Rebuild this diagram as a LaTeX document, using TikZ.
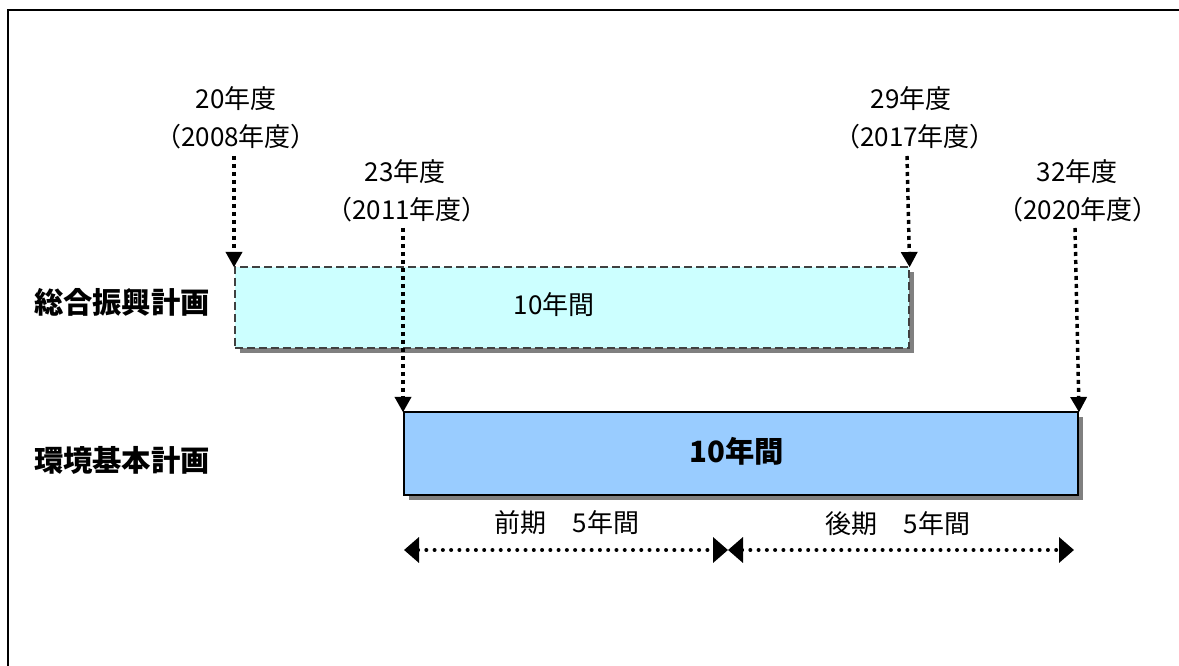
\documentclass[tikz,border=0pt]{standalone}
\usepackage{fontspec}
\setmainfont{Noto Sans CJK JP}
\usetikzlibrary{arrows.meta,shadows}
\definecolor{cyanfill}{HTML}{CCFFFF}
\definecolor{bluefill}{HTML}{99CCFF}
\definecolor{shadowgray}{HTML}{808080}
\definecolor{dashgray}{HTML}{404040}
\tikzset{
  lbl/.style={inner sep=0pt, font=\fontsize{19.5pt}{23pt}\selectfont},
  biglbl/.style={inner sep=0pt, font=\fontsize{22pt}{25pt}\selectfont\bfseries},
  boxshadow/.style={drop shadow={shadow xshift=3.75pt, shadow yshift=-3.75pt, fill=shadowgray, opacity=1}},
  planbox/.style={draw=dashgray, dash pattern=on 6pt off 3pt, line width=1.2pt, fill=cyanfill,
    minimum width=505.5pt, minimum height=60.75pt, anchor=north west, inner sep=0pt, boxshadow},
  envbox/.style={draw=black, line width=1.5pt, fill=bluefill,
    minimum width=505.5pt, minimum height=62.25pt, anchor=north west, inner sep=0pt, boxshadow},
  varrow/.style={line width=2.6pt, dash pattern=on 3pt off 3pt,
    -{Triangle[length=11.5pt,width=12pt]}, shorten >=-1pt},
  harrow/.style={line width=3pt, line cap=round, dash pattern=on 0pt off 6.2pt,
    {Triangle[length=11.25pt,width=18.75pt]}-{Triangle[length=11.25pt,width=18.75pt]}},
}
\begin{document}
\begin{tikzpicture}[x=0.75pt,y=-0.75pt]
\useasboundingbox (0,0) rectangle (1179,666);
% frame
\draw[line width=1.6pt] (8,680) -- (8,10) -- (1190,10);

% row labels
\node[biglbl] (lplan) at (122,302) {総合振興計画};
\node[biglbl] (lenv) at (122,460) {環境基本計画};

% boxes
\node[planbox] (plan) at (234,266) {};
\node[lbl] (plantext) at (554,305) {10年間};
\node[envbox] (env) at (403,411) {};
\node[biglbl] (envtext) at (737,451) {10年間};

% year labels
\node[lbl] (y20) at (236,99) {20年度};
\node[lbl] (y20b) at (236,137) {（2008年度）};
\node[lbl] (y23) at (405,172) {23年度};
\node[lbl] (y23b) at (407,210) {（2011年度）};
\node[lbl] (y29) at (911,99) {29年度};
\node[lbl] (y29b) at (915,137) {（2017年度）};
\node[lbl] (y32) at (1077,172) {32年度};
\node[lbl] (y32b) at (1078,210) {（2020年度）};

% vertical arrows
\coordinate (s20) at (234,156);
\coordinate (s23) at (403,228);
\coordinate (s29) at (907,156);
\coordinate (s32) at (1075,228);
\draw[varrow] (s20) -- (plan.north west);
\draw[varrow] (s29) -- (plan.north east);
\draw[varrow] (s23) -- (env.north west);
\draw[varrow] (s32) -- (env.north east);

% periods
\node[lbl] (early) at (567,523) {前期　5年間};
\node[lbl] (late) at (898,524) {後期　5年間};
\coordinate (h1) at (404,550);
\coordinate (h2) at (728,550);
\coordinate (h3) at (1074,550);
\draw[harrow] (h1) -- (h2);
\draw[harrow] (h2) -- (h3);
\end{tikzpicture}
\end{document}
